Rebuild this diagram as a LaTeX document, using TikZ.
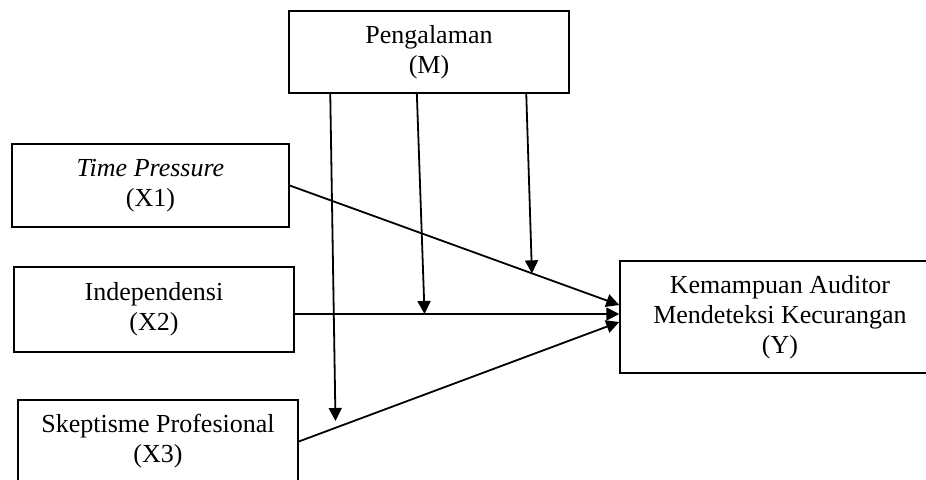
\documentclass[tikz,border=0pt]{standalone}
\usepackage{fontspec}
\setmainfont{Liberation Serif}
\usetikzlibrary{arrows.meta,calc}

\begin{document}
\begin{tikzpicture}[
    x=0.5pt, y=-0.5pt,
    font=\fontsize{13}{15}\selectfont,
    kotak/.style={draw, line width=0.75pt, align=center, minimum width=140pt, minimum height=41.5pt, inner sep=0pt},
    panah/.style={-{Triangle[length=6.5pt,width=6.5pt]}, line width=0.9pt}]

    \useasboundingbox (0,0) rectangle (926,479);

    % variabel moderasi
    \node[kotak, minimum height=41pt] (pengalaman) at (429,52) {Pengalaman\\(M)};

    % variabel independen
    \node[kotak, minimum width=138.5pt] (waktu) at (150.5,185.5) {\textit{Time Pressure}\\(X1)};
    \node[kotak, minimum height=42.5pt] (independensi) at (154,309.5) {Independensi\\(X2)};
    \node[kotak] (skeptis) at (158,441.5) {Skeptisme Profesional\\(X3)};

    % variabel dependen
    \node[kotak, minimum width=160pt, minimum height=56pt] (kemampuan) at (780,317) {Kemampuan Auditor\\Mendeteksi Kecurangan\\(Y)};

    % pengaruh langsung X ke Y
    \coordinate (masuk1) at ($(kemampuan.west)+(0,-12)$);
    \coordinate (masuk2) at ($(kemampuan.west)+(0,-3)$);
    \coordinate (masuk3) at ($(kemampuan.west)+(0,5)$);
    \draw[panah] (waktu.east) -- (masuk1);
    \draw[panah] (independensi.east |- masuk2) -- (masuk2);
    \draw[panah] (skeptis.east) -- (masuk3);

    % efek moderasi pengalaman
    \coordinate (m1) at ($(pengalaman.south west)+(238,0)$);
    \coordinate (m2) at ($(pengalaman.south west)+(128.6,0)$);
    \coordinate (m3) at ($(pengalaman.south west)+(42,0)$);
    \coordinate (ujung1) at ($(waktu.east)!0.735!(masuk1)$);
    \coordinate (ujung2) at ($(independensi.east |- masuk2)!0.4!(masuk2)$);
    \coordinate (ujung3) at (335.5,421);
    \draw[panah] (m1) -- (ujung1);
    \draw[panah] (m2) -- (ujung2);
    \draw[panah] (m3) -- (ujung3);
\end{tikzpicture}
\end{document}
